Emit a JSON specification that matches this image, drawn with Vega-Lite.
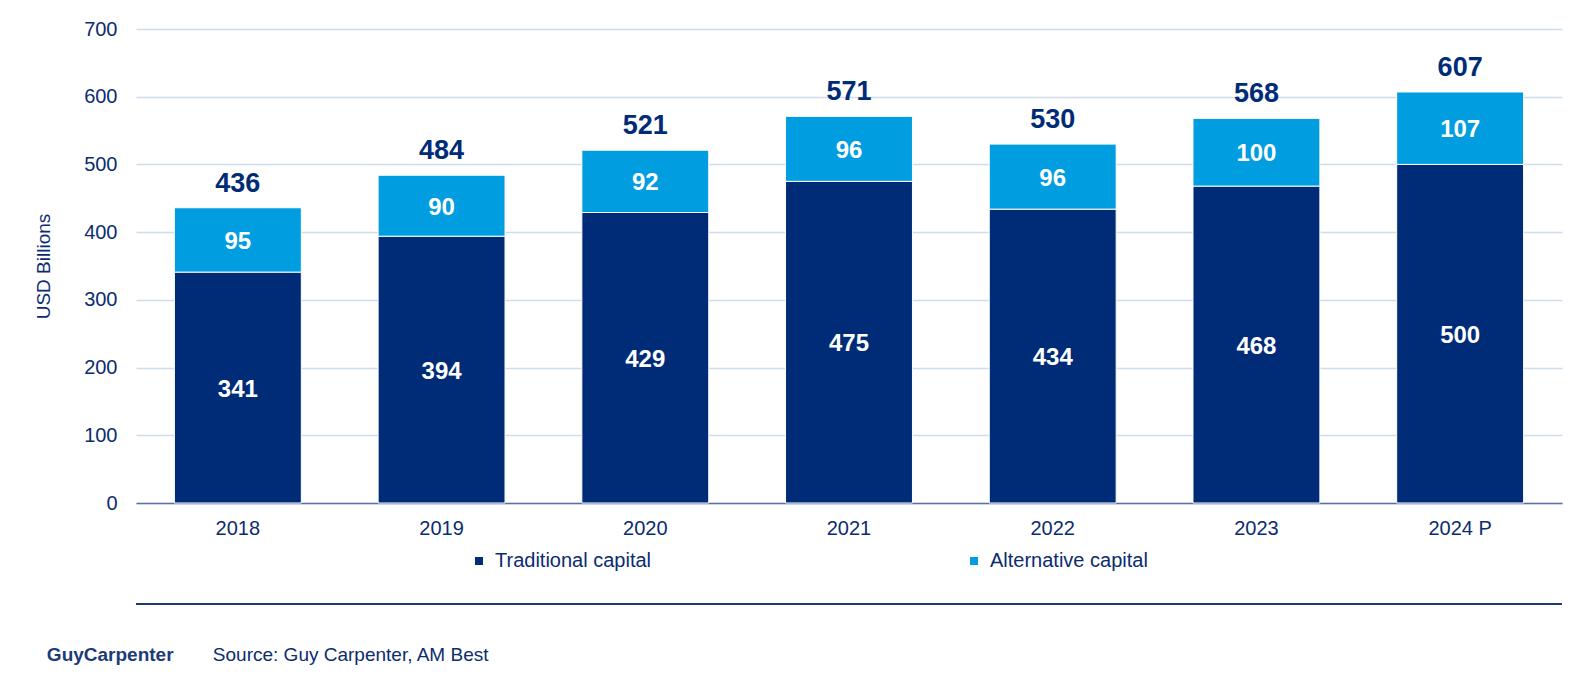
{
  "$schema": "https://vega.github.io/schema/vega-lite/v6.json",
  "width": 1426,
  "height": 474,
  "autosize": {"type": "none"},
  "padding": {"left": 136, "top": 29, "right": 34, "bottom": 177},
  "background": "white",
  "config": {"view": {"stroke": null}, "font": "Liberation Sans"},
  "data": {
    "values": [
      {"year": "2018", "type": "Traditional capital", "value": 341},
      {"year": "2018", "type": "Alternative capital", "value": 95},
      {"year": "2019", "type": "Traditional capital", "value": 394},
      {"year": "2019", "type": "Alternative capital", "value": 90},
      {"year": "2020", "type": "Traditional capital", "value": 429},
      {"year": "2020", "type": "Alternative capital", "value": 92},
      {"year": "2021", "type": "Traditional capital", "value": 475},
      {"year": "2021", "type": "Alternative capital", "value": 96},
      {"year": "2022", "type": "Traditional capital", "value": 434},
      {"year": "2022", "type": "Alternative capital", "value": 96},
      {"year": "2023", "type": "Traditional capital", "value": 468},
      {"year": "2023", "type": "Alternative capital", "value": 100},
      {"year": "2024 P", "type": "Traditional capital", "value": 500},
      {"year": "2024 P", "type": "Alternative capital", "value": 107}
    ]
  },
  "layer": [
    {
      "mark": {"type": "bar", "stroke": "white", "strokeWidth": 1},
      "encoding": {
        "x": {
          "field": "year", "type": "nominal", "sort": null,
          "scale": {"paddingInner": 0.377, "paddingOuter": 0.1885},
          "axis": {
            "title": null, "labelAngle": 0, "labelFontSize": 20, "labelColor": "#0B2C70",
            "labelPadding": 15, "ticks": false, "domainColor": "#5B70A6", "domainWidth": 1.5,
            "grid": false
          }
        },
        "y": {
          "field": "value", "type": "quantitative", "stack": "zero",
          "scale": {"domain": [0, 700], "nice": false},
          "axis": {
            "title": "USD Billions", "titleFontSize": 19, "titleFontWeight": "normal",
            "titleColor": "#0B2C70", "titlePadding": 30,
            "values": [0, 100, 200, 300, 400, 500, 600, 700],
            "labelFontSize": 20, "labelColor": "#0B2C70", "labelPadding": 19,
            "ticks": false, "domain": false, "gridColor": "#CFDCEA", "gridWidth": 1.5
          }
        },
        "color": {
          "field": "type", "type": "nominal",
          "scale": {"domain": ["Traditional capital", "Alternative capital"], "range": ["#002C77", "#009DE0"]},
          "legend": {
            "orient": "none", "legendX": 333, "legendY": 522, "direction": "horizontal",
            "columns": 2, "title": null, "symbolType": "square", "symbolSize": 64,
            "symbolStrokeWidth": 0, "labelFontSize": 20, "labelColor": "#0B2C70",
            "labelOffset": 6, "columnPadding": 312, "padding": 0
          }
        },
        "order": {"field": "type", "sort": "descending"}
      }
    },
    {
      "mark": {"type": "text", "color": "white", "fontSize": 24, "fontWeight": "bold", "baseline": "middle", "dy": 2},
      "encoding": {
        "x": {"field": "year", "type": "nominal", "sort": null},
        "y": {"field": "value", "type": "quantitative", "stack": "zero", "bandPosition": 0.5},
        "detail": {"field": "type"},
        "order": {"field": "type", "sort": "descending"},
        "text": {"field": "value", "type": "quantitative"}
      }
    },
    {
      "transform": [{"aggregate": [{"op": "sum", "field": "value", "as": "total"}], "groupby": ["year"]}],
      "mark": {"type": "text", "color": "#002C77", "fontSize": 27, "fontWeight": "bold", "baseline": "alphabetic", "dy": -16},
      "encoding": {
        "x": {"field": "year", "type": "nominal", "sort": null},
        "y": {"field": "total", "type": "quantitative"},
        "text": {"field": "total", "type": "quantitative"}
      }
    },
    {
      "data": {"values": [{"line": "footer"}]},
      "mark": {"type": "rule", "color": "#1B3A78", "strokeWidth": 2},
      "encoding": {"y": {"datum": -149}}
    },
    {
      "data": {"values": [{"label": "GuyCarpenter"}]},
      "mark": {"type": "text", "align": "left", "baseline": "middle", "fontSize": 19, "fontWeight": "bold", "color": "#1B3A78", "dx": -191},
      "encoding": {"x": {"datum": "2018"}, "y": {"datum": -224}, "text": {"field": "label"}}
    },
    {
      "data": {"values": [{"label": "Source: Guy Carpenter, AM Best"}]},
      "mark": {"type": "text", "align": "left", "baseline": "middle", "fontSize": 19, "color": "#0B2C70", "dx": -25},
      "encoding": {"x": {"datum": "2018"}, "y": {"datum": -224}, "text": {"field": "label"}}
    }
  ]
}
